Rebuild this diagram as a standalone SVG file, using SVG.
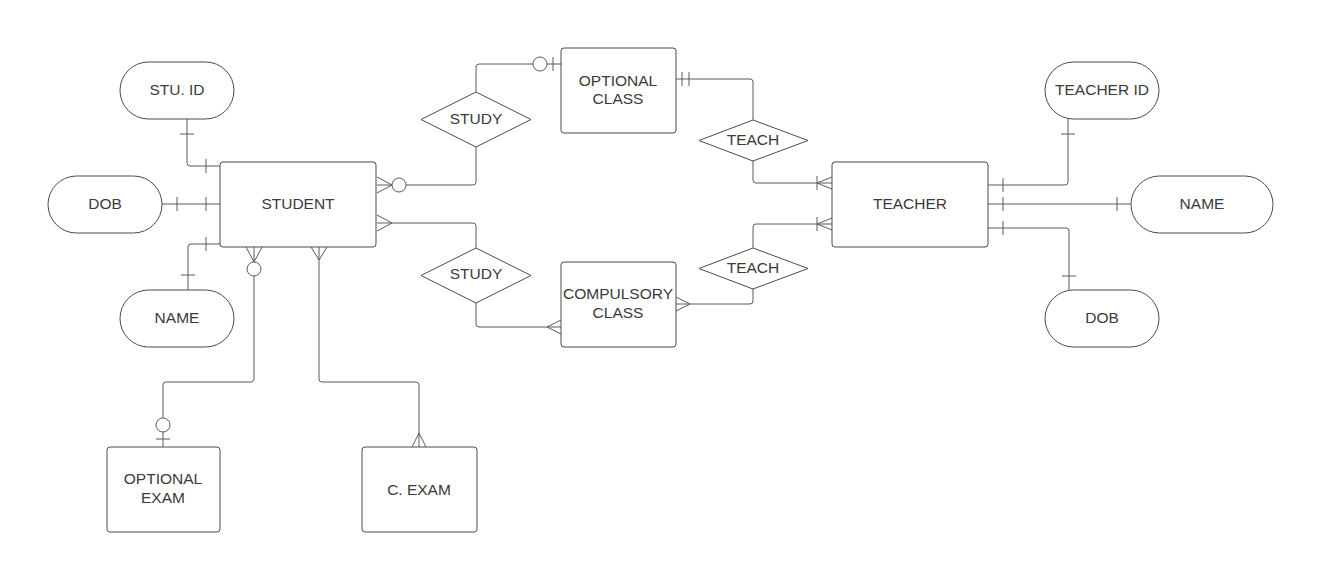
<svg xmlns="http://www.w3.org/2000/svg" width="1322" height="587" viewBox="0 0 1322 587">
<style>
.ent{fill:#fff;stroke:#4a4a4a;stroke-width:1}
.conn path,.conn circle{fill:none;stroke:#5a5a5a;stroke-width:1}
.conn circle{fill:#fff}
text{font-family:"Liberation Sans",Arial,sans-serif;font-size:15.5px;fill:#3a3a3a;text-anchor:middle;dominant-baseline:central}
</style>
<rect width="1322" height="587" fill="#fff"/>
<g id="connectors" class="conn">
<path d="M187,119 V163 Q187,166 190,166 H220 M180,134 H194 M206,159 V173"/>
<path d="M162,204 H220 M177,197 V211 M206,197 V211"/>
<path d="M188,290 V247 Q188,244 191,244 H220 M181,275 H195 M206,237 V251"/>
<path d="M246,247 L254,262 L262,247 M254,247 V262 M254,276 V379 Q254,382 251,382 H166 Q163,382 163,385 V418 M163,432 V447 M156,439 H170"/>
<circle cx="254" cy="269" r="7"/>
<circle cx="163" cy="425" r="7"/>
<path d="M311,247 L319,260 L327,247 M319,247 V379 Q319,382 322,382 H416 Q419,382 419,385 V447 M412,447 L419,433 L426,447"/>
<path d="M377,177 L392,185 L377,193 M377,185 H392 M406,185 H473 Q476,185 476,182 V147 M476,92 V67 Q476,64 479,64 H533 M547,64 H561 M553,57 V71"/>
<circle cx="399" cy="185" r="7"/>
<circle cx="540" cy="64" r="7"/>
<path d="M377,215 L392,223 L377,231 M377,223 H473 Q476,223 476,226 V248 M476,303 V324 Q476,327 479,327 H561 M561,320 L547,327 L561,334"/>
<path d="M676,79 H750 Q753,79 753,82 V120 M682,72 V86 M689,72 V86 M753,161 V180 Q753,183 756,183 H832 M817,176 V190 M832,177 L817,183 L832,189"/>
<path d="M676,297 L690,304 L676,311 M676,304 H750 Q753,304 753,301 V289 M753,248 V227 Q753,224 756,224 H832 M817,217 V231 M832,218 L817,224 L832,230"/>
<path d="M988,185 H1065 Q1068,185 1068,182 V119 M1003,178 V192 M1061,134 H1075"/>
<path d="M988,204 H1131 M1003,197 V211 M1117,197 V211"/>
<path d="M988,228 H1066 Q1069,228 1069,231 V290 M1003,221 V235 M1062,276 H1076"/>
</g>
<g id="stu-id"><rect class="ent" x="120" y="62" width="114" height="57" rx="28.5"/><text x="177" y="89">STU. ID</text></g>
<g id="stu-dob"><rect class="ent" x="48" y="176" width="114" height="57" rx="28.5"/><text x="105" y="203">DOB</text></g>
<g id="stu-name"><rect class="ent" x="120" y="290" width="114" height="57" rx="28.5"/><text x="177" y="317">NAME</text></g>
<g id="student"><rect class="ent" x="220" y="162" width="156" height="85" rx="3"/><text x="298" y="203">STUDENT</text></g>
<g id="optional-exam"><rect class="ent" x="107" y="447" width="113" height="85" rx="3"/><text x="163" y="478">OPTIONAL</text><text x="163" y="497">EXAM</text></g>
<g id="c-exam"><rect class="ent" x="362" y="447" width="115" height="85" rx="3"/><text x="419" y="489">C. EXAM</text></g>
<g id="study-1"><polygon class="ent" points="421,119.5 476,92 531,119.5 476,147"/><text x="476" y="118">STUDY</text></g>
<g id="study-2"><polygon class="ent" points="421,275.5 476,248 531,275.5 476,303"/><text x="476" y="273">STUDY</text></g>
<g id="optional-class"><rect class="ent" x="561" y="48" width="115" height="85" rx="3"/><text x="618" y="80">OPTIONAL</text><text x="618" y="98">CLASS</text></g>
<g id="compulsory-class"><rect class="ent" x="561" y="262" width="115" height="85" rx="3"/><text x="618" y="293">COMPULSORY</text><text x="618" y="312">CLASS</text></g>
<g id="teach-1"><polygon class="ent" points="699,140.5 753,120 808,140.5 753,161"/><text x="753" y="139">TEACH</text></g>
<g id="teach-2"><polygon class="ent" points="699,268.5 753,248 808,268.5 753,289"/><text x="753" y="267">TEACH</text></g>
<g id="teacher"><rect class="ent" x="832" y="162" width="156" height="85" rx="3"/><text x="910" y="203">TEACHER</text></g>
<g id="teacher-id"><rect class="ent" x="1045" y="62" width="114" height="57" rx="28.5"/><text x="1102" y="89">TEACHER ID</text></g>
<g id="teacher-name"><rect class="ent" x="1131" y="176" width="142" height="57" rx="28.5"/><text x="1202" y="203">NAME</text></g>
<g id="teacher-dob"><rect class="ent" x="1045" y="290" width="114" height="57" rx="28.5"/><text x="1102" y="317">DOB</text></g>
</svg>
